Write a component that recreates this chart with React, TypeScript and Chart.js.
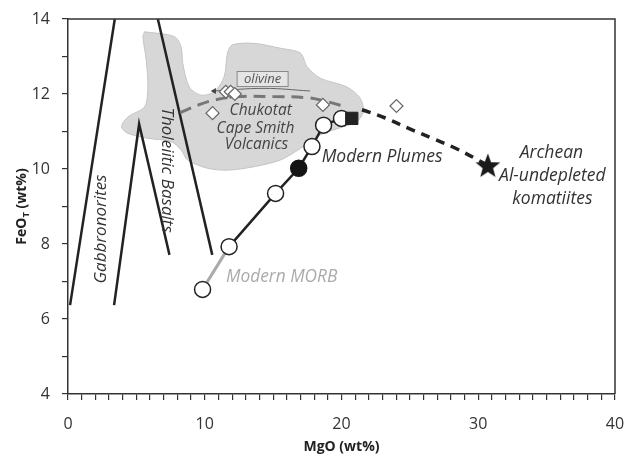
import React, { useEffect, useRef } from "react";
import { Chart, registerables } from "chart.js";

Chart.register(...registerables);

// ---- data ----
const regionX = [5.6, 7.78, 8.27, 8.39, 8.87, 9.72, 10.69, 11.42, 11.66, 12.02, 13.6, 15.54, 17.0, 17.48, 18.45, 20.39, 21.36, 21.6, 21.11, 20.15, 18.45, 17.0, 15.54, 13.6, 11.66, 10.2, 8.75, 8.27, 7.54, 5.84, 4.39, 3.91, 4.39, 5.6, 5.84, 5.72, 5.48, 5.6];
const regionY = [13.66, 13.53, 13.26, 12.82, 12.19, 11.97, 12.06, 12.46, 13.09, 13.31, 13.35, 13.22, 13.09, 12.73, 12.42, 12.19, 11.89, 11.53, 11.26, 11.13, 10.91, 10.55, 10.24, 10.06, 9.97, 10.02, 10.24, 10.51, 10.73, 10.82, 10.95, 11.13, 11.39, 11.66, 12.19, 12.91, 13.53, 13.66];

const gabbroX = [0.15, 3.42];
const gabbroY = [6.37, 14];
const tholVX = [3.37, 5.2, 7.42];
const tholVY = [6.37, 11.2, 7.71];
const tholRX = [6.57, 10.55];
const tholRY = [14, 7.71];

const chukTrendX = [8.2, 9.5, 10.7, 12.5, 15.0, 17.5, 18.9, 20.4];
const chukTrendY = [11.5, 11.7, 11.84, 11.93, 11.93, 11.9, 11.8, 11.65];

const komTrendX = [21.5, 23.2, 24.87, 26.55, 28.3, 30.7];
const komTrendY = [11.58, 11.36, 11.09, 10.83, 10.56, 10.1];

const olivineX = [17.7, 14.33, 10.69];
const olivineY = [12.08, 12.15, 12.08];

const chukX = [10.57, 11.54, 11.9, 12.2, 18.64, 24.02];
const chukY = [11.49, 12.06, 12.06, 12.0, 11.71, 11.68];

const morbX = [9.84, 11.78];
const morbY = [6.79, 7.93];

const plumeX = [11.78, 15.18, 16.87, 17.84, 18.69, 20.0];
const plumeY = [7.93, 9.35, 10.02, 10.6, 11.17, 11.35];

const openX = [9.84, 11.78, 15.18, 17.84, 18.69, 20.0];
const openY = [6.79, 7.93, 9.35, 10.6, 11.17, 11.35];

const filledX = [16.87];
const filledY = [10.02];

const squareX = [20.75];
const squareY = [11.35];

const starX = [30.7];
const starY = [10.1];

const xTicks = [0, 10, 20, 30, 40];
const yTicks = [4, 6, 8, 10, 12, 14];

const pts = (xs: number[], ys: number[]) => xs.map((x, i) => ({ x, y: ys[i] }));

function makeStar(r: number): HTMLCanvasElement {
  const c = document.createElement("canvas");
  const s = Math.ceil(r * 2 + 4);
  c.width = s;
  c.height = s;
  const ctx = c.getContext("2d")!;
  const cx = s / 2;
  const cy = s / 2 + r * 0.1;
  ctx.beginPath();
  for (let i = 0; i < 10; i++) {
    const rad = i % 2 === 0 ? r : r * 0.42;
    const a = -Math.PI / 2 + (i * Math.PI) / 5;
    const px = cx + rad * Math.cos(a);
    const py = cy + rad * Math.sin(a);
    if (i === 0) ctx.moveTo(px, py);
    else ctx.lineTo(px, py);
  }
  ctx.closePath();
  ctx.fillStyle = "#1a1a1a";
  ctx.fill();
  return c;
}

const F = "'Open Sans', sans-serif";
const BIG = `italic 17.5px ${F}`;
const MID = `italic 17px ${F}`;
const SMALL = `italic 15.5px ${F}`;

type Lbl = { t: string; x: number; y: number; font: string; color: string; align: CanvasTextAlign; rot?: number };
const labels: Lbl[] = [
  { t: "Gabbronorites", x: 2.4, y: 8.4, font: MID, color: "#333", align: "center", rot: -90 },
  { t: "Tholeiitic Basalts", x: 7.25, y: 9.97, font: MID, color: "#333", align: "center", rot: 90 },
  { t: "Chukotat", x: 14.09, y: 11.55, font: SMALL, color: "#444", align: "center" },
  { t: "Cape Smith", x: 13.71, y: 11.09, font: SMALL, color: "#444", align: "center" },
  { t: "Volcanics", x: 13.78, y: 10.64, font: SMALL, color: "#444", align: "center" },
  { t: "Modern Plumes", x: 18.55, y: 10.32, font: BIG, color: "#333", align: "left" },
  { t: "Modern MORB", x: 11.56, y: 7.12, font: `italic 17.3px ${F}`, color: "#aaa", align: "left" },
  { t: "Archean", x: 35.35, y: 10.43, font: BIG, color: "#333", align: "center" },
  { t: "Al-undepleted", x: 35.42, y: 9.81, font: BIG, color: "#333", align: "center" },
  { t: "komatiites", x: 35.42, y: 9.2, font: BIG, color: "#333", align: "center" },
];

const textPlugin = {
  id: "texts",
  afterDatasetsDraw(chart: any) {
    const { ctx, scales } = chart;
    const xs = scales.x;
    const ys = scales.y;
    ctx.save();
    // olivine box
    const bx = xs.getPixelForValue(14.23);
    const by = ys.getPixelForValue(12.4);
    ctx.fillStyle = "#e4e4e4";
    ctx.strokeStyle = "#8a8a8a";
    ctx.lineWidth = 1;
    ctx.fillRect(bx - 25.5, by - 7.5, 51, 15);
    ctx.strokeRect(bx - 25.5, by - 7.5, 51, 15);
    ctx.fillStyle = "#555";
    ctx.font = `italic 13px ${F}`;
    ctx.textAlign = "center";
    ctx.textBaseline = "middle";
    ctx.fillText("olivine", bx, by);

    for (const l of labels) {
      const px = xs.getPixelForValue(l.x);
      const py = ys.getPixelForValue(l.y);
      ctx.save();
      ctx.translate(px, py);
      if (l.rot) ctx.rotate((l.rot * Math.PI) / 180);
      ctx.font = l.font;
      ctx.fillStyle = l.color;
      ctx.textAlign = l.align;
      ctx.textBaseline = "middle";
      ctx.fillText(l.t, 0, 0);
      ctx.restore();
    }
    ctx.restore();
  },
  afterDraw(chart: any) {
    const { ctx, chartArea } = chart;
    ctx.save();
    // top & right frame
    ctx.strokeStyle = "#333";
    ctx.lineWidth = 1.5;
    ctx.beginPath();
    ctx.moveTo(chartArea.left, chartArea.top);
    ctx.lineTo(chartArea.right, chartArea.top);
    ctx.lineTo(chartArea.right, chartArea.bottom);
    ctx.stroke();

    // axis titles
    ctx.fillStyle = "#222";
    ctx.textBaseline = "middle";
    ctx.font = `bold 14px ${F}`;
    ctx.textAlign = "center";
    ctx.fillText("MgO (wt%)", (chartArea.left + chartArea.right) / 2, 447);

    // FeO_T (wt%) rotated
    const main = `bold 14px ${F}`;
    const sub = `bold 9.5px ${F}`;
    ctx.font = main;
    const w1 = ctx.measureText("FeO").width;
    const w3 = ctx.measureText(" (wt%)").width;
    ctx.font = sub;
    const w2 = ctx.measureText("T").width;
    const total = w1 + w2 + w3;
    ctx.translate(22, (chartArea.top + chartArea.bottom) / 2);
    ctx.rotate(-Math.PI / 2);
    ctx.textAlign = "left";
    let x0 = -total / 2;
    ctx.font = main;
    ctx.fillText("FeO", x0, 0);
    x0 += w1;
    ctx.font = sub;
    ctx.fillText("T", x0, 4.5);
    x0 += w2;
    ctx.font = main;
    ctx.fillText(" (wt%)", x0, 0);
    ctx.restore();
  },
};

export default function App() {
  const ref = useRef<HTMLCanvasElement | null>(null);
  useEffect(() => {
    if (!ref.current) return;
    const star = makeStar(13);
    const lineBase = { pointRadius: 0, fill: false, tension: 0 };
    const chart = new Chart(ref.current, {
      type: "line",
      data: {
        datasets: [
          {
            ...lineBase,
            data: pts(starX, starY),
            showLine: false,
            pointStyle: star as any,
            pointRadius: 13,
            order: 0,
          },
          {
            ...lineBase,
            data: pts(squareX, squareY),
            showLine: false,
            pointStyle: "rect",
            pointRadius: 8.7,
            pointBackgroundColor: "#222",
            pointBorderColor: "#222",
            pointBorderWidth: 1,
            order: 1,
          },
          {
            ...lineBase,
            data: pts(filledX, filledY),
            showLine: false,
            pointStyle: "circle",
            pointRadius: 8,
            pointBackgroundColor: "#151515",
            pointBorderColor: "#151515",
            pointBorderWidth: 1.5,
            order: 2,
          },
          {
            ...lineBase,
            data: pts(openX, openY),
            showLine: false,
            pointStyle: "circle",
            pointRadius: 8,
            pointBackgroundColor: "#fff",
            pointBorderColor: "#222",
            pointBorderWidth: 1.5,
            order: 3,
          },
          {
            ...lineBase,
            data: pts(plumeX, plumeY),
            borderColor: "#222",
            borderWidth: 2.5,
            order: 4,
          },
          {
            ...lineBase,
            data: pts(morbX, morbY),
            borderColor: "#aaa",
            borderWidth: 3,
            order: 5,
          },
          {
            ...lineBase,
            data: pts(chukX, chukY),
            showLine: false,
            pointStyle: "rectRot",
            pointRadius: 6.5,
            pointBackgroundColor: "#fff",
            pointBorderColor: "#666",
            pointBorderWidth: 1.2,
            order: 6,
          },
          {
            ...lineBase,
            data: pts(olivineX, olivineY),
            borderColor: "#666",
            borderWidth: 1,
            tension: 0.4,
            pointStyle: "triangle",
            pointRotation: 270,
            pointRadius: [0, 0, 3.5],
            pointBackgroundColor: "#444",
            pointBorderColor: "#444",
            pointBorderWidth: 0,
            order: 7,
          },
          {
            ...lineBase,
            data: pts(komTrendX, komTrendY),
            borderColor: "#222",
            borderWidth: 3.5,
            borderDash: [9, 7],
            tension: 0.4,
            order: 8,
          },
          {
            ...lineBase,
            data: pts(chukTrendX, chukTrendY),
            borderColor: "#777",
            borderWidth: 3,
            borderDash: [12, 7],
            tension: 0.4,
            order: 9,
          },
          {
            ...lineBase,
            data: pts(gabbroX, gabbroY),
            borderColor: "#222",
            borderWidth: 2.5,
            order: 10,
          },
          {
            ...lineBase,
            data: pts(tholVX, tholVY),
            borderColor: "#222",
            borderWidth: 2.5,
            order: 11,
          },
          {
            ...lineBase,
            data: pts(tholRX, tholRY),
            borderColor: "#222",
            borderWidth: 2.5,
            order: 12,
          },
          {
            ...lineBase,
            data: pts(regionX, regionY),
            borderColor: "#c4c4c4",
            borderWidth: 1,
            backgroundColor: "rgba(208,208,208,0.85)",
            fill: "shape",
            tension: 0.3,
            order: 20,
          },
        ] as any,
      },
      options: {
        animation: false,
        responsive: false,
        devicePixelRatio: 1,
        events: [],
        layout: { padding: { top: 19, right: 11, left: 0, bottom: 0 } },
        plugins: { legend: { display: false }, tooltip: { enabled: false } },
        scales: {
          x: {
            type: "linear",
            min: 0,
            max: 40,
            afterFit: (s: any) => {
              s.height = 62;
              s.paddingLeft = 0;
              s.paddingRight = 0;
            },
            afterBuildTicks: (s: any) => {
              const t = [];
              for (let v = 0; v <= 40; v++) t.push({ value: v });
              s.ticks = t;
            },
            ticks: {
              autoSkip: false,
              maxRotation: 0,
              padding: 15,
              color: "#333",
              font: { family: F, size: 16 },
              callback: (v: any) => (xTicks.includes(Number(v)) ? String(v) : ""),
            },
            grid: { drawOnChartArea: false, drawTicks: true, tickLength: 6, color: "#333", lineWidth: 1.2 },
            border: { display: true, color: "#333", width: 1.5 },
          },
          y: {
            type: "linear",
            min: 4,
            max: 14,
            afterFit: (s: any) => {
              s.width = 68;
              s.paddingTop = 0;
              s.paddingBottom = 0;
            },
            afterBuildTicks: (s: any) => {
              const t = [];
              for (let v = 4; v <= 14; v++) t.push({ value: v });
              s.ticks = t;
            },
            ticks: {
              autoSkip: false,
              padding: 12,
              color: "#333",
              font: { family: F, size: 16 },
              callback: (v: any) => (yTicks.includes(Number(v)) ? String(v) : ""),
            },
            grid: { drawOnChartArea: false, drawTicks: true, tickLength: 6, color: "#333", lineWidth: 1.2 },
            border: { display: true, color: "#333", width: 1.5 },
          },
        },
      },
      plugins: [textPlugin],
    });
    return () => chart.destroy();
  }, []);
  return (
    <div style={{ position: "absolute", left: 0, top: 0, width: 629, height: 456, background: "#fff" }}>
      <canvas ref={ref} width={629} height={456} />
    </div>
  );
}
